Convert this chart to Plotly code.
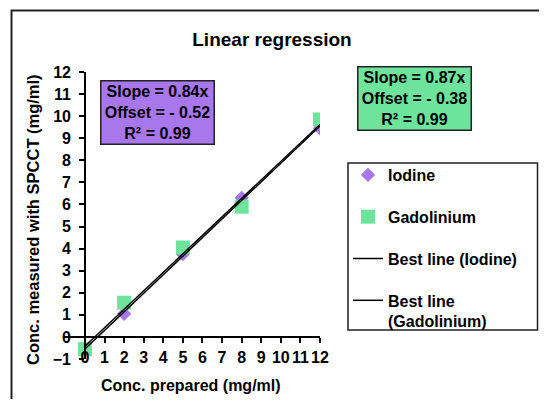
import plotly.graph_objects as go

# ---- data ----
conc_prepared = [0, 2, 5, 8, 12]
iodine_measured = [-0.5, 1.05, 3.75, 6.3, 9.45]
gadolinium_measured = [-0.55, 1.55, 4.05, 5.9, 9.85]
fit_x = [0, 12]
fit_iodine = [-0.55, 9.55]
fit_gadolinium = [-0.42, 9.62]
x_ticks = list(range(0, 13))
y_ticks = list(range(-1, 13))
iodine_box = ["Slope = 0.84x", "Offset = - 0.52", "R² = 0.99"]
gadolinium_box = ["Slope = 0.87x", "Offset = - 0.38", "R² = 0.99"]

FONT = "Arial, Liberation Sans, sans-serif"
PURPLE = "#A877EB"
GREEN = "#6EE39B"

fig = go.Figure()
fig.add_trace(go.Scatter(x=conc_prepared, y=iodine_measured, mode="markers", name="Iodine",
                         legendgroup="a",
                         marker=dict(symbol="diamond", size=11, color=PURPLE)))
fig.add_trace(go.Scatter(x=conc_prepared, y=gadolinium_measured, mode="markers", name="Gadolinium",
                         legendgroup="b",
                         marker=dict(symbol="square", size=14, color=GREEN)))
fig.add_trace(go.Scatter(x=fit_x, y=fit_iodine, mode="lines", name="Best line (Iodine)",
                         legendgroup="c",
                         line=dict(color="black", width=1.5)))
fig.add_trace(go.Scatter(x=fit_x, y=fit_gadolinium, mode="lines", name="Best line<br>(Gadolinium)",
                         legendgroup="d",
                         line=dict(color="black", width=1.5)))

# page offset (body margin) in screen pixels; visible area ends at 539 x 399
OFF = 8
W, H = 539 - OFF, 399 - OFF
# plot area in screen pixels
SL, SR, ST, SB = 63, 320, 72, 359
L, T = SL - OFF, ST - OFF
R, B = W - (SR - OFF), H - (SB - OFF)
pw, ph = W - L - R, H - T - B
xr = [-1.12, 12]
yr = [-1, 12]

def px_x(p):  # screen px -> paper x
    return (p - OFF - L) / pw

def px_y(p):  # screen px -> paper y
    return (H - B - (p - OFF)) / ph

tick_font = dict(family=FONT, size=16, color="black", weight="bold")

fig.update_layout(
    width=W, height=H,
    margin=dict(l=L, r=R, t=T, b=B, autoexpand=False),
    paper_bgcolor="white", plot_bgcolor="white",
    showlegend=True,
    title=dict(text="Linear regression", x=(272 - OFF) / W, y=1 - (39 - OFF) / H,
               xref="container", yref="container", xanchor="center", yanchor="middle",
               font=dict(family=FONT, size=19, color="black", weight="bold")),
    xaxis=dict(range=xr, anchor="free", position=(0 - yr[0]) / (yr[1] - yr[0]),
               tickvals=x_ticks, ticks="outside", ticklen=5, tickwidth=1.5, tickcolor="black",
               showline=True, linecolor="black", linewidth=1.5, showgrid=False, zeroline=False,
               tickfont=tick_font, ticklabelstandoff=1),
    yaxis=dict(range=yr, anchor="free", position=(0 - xr[0]) / (xr[1] - xr[0]),
               tickvals=y_ticks, ticks="outside", ticklen=5, tickwidth=1.5, tickcolor="black",
               showline=True, linecolor="black", linewidth=1.5, showgrid=False, zeroline=False,
               tickfont=tick_font, ticklabelstandoff=5),
    legend=dict(x=px_x(348), y=px_y(158), xanchor="left", yanchor="top",
                bgcolor="rgba(0,0,0,0)", borderwidth=0,
                font=dict(family=FONT, size=16, color="black", weight="bold"),
                traceorder="grouped", tracegroupgap=18, valign="top"),
)

# legend frame
fig.add_shape(type="rect", xref="paper", yref="paper",
              x0=px_x(348), y0=px_y(163), x1=px_x(537.5), y1=px_y(330),
              line=dict(color="#222", width=1.5), fillcolor="white", layer="above")

box_font = dict(family=FONT, size=16, color="black", weight="bold")
fig.add_annotation(text="<br>".join(iodine_box), xref="paper", yref="paper",
                   x=px_x(157), y=px_y(112), xanchor="center", yanchor="middle", showarrow=False,
                   font=box_font, bgcolor=PURPLE, bordercolor="#222", borderwidth=1.5,
                   width=110, height=60, borderpad=1, align="center")
fig.add_annotation(text="<br>".join(gadolinium_box), xref="paper", yref="paper",
                   x=px_x(414.5), y=px_y(98), xanchor="center", yanchor="middle", showarrow=False,
                   font=box_font, bgcolor=GREEN, bordercolor="#222", borderwidth=1.5,
                   width=110, height=60, borderpad=1, align="center")

fig.add_annotation(text="Conc. prepared (mg/ml)", xref="paper", yref="paper",
                   x=px_x(190.5), y=px_y(386), xanchor="center", yanchor="middle", showarrow=False,
                   font=dict(family=FONT, size=16, color="black", weight="bold"))
fig.add_annotation(text="Conc. measured with SPCCT (mg/ml)", xref="paper", yref="paper",
                   x=px_x(33), y=px_y(220), xanchor="center", yanchor="middle", showarrow=False,
                   textangle=-90,
                   font=dict(family=FONT, size=16.5, color="black", weight="bold"))

# outer frame
fig.add_shape(type="rect", xref="paper", yref="paper",
              x0=px_x(11.5), y0=px_y(10.5), x1=px_x(547 + 40), y1=px_y(407 + 40),
              line=dict(color="#222", width=2), fillcolor="rgba(0,0,0,0)", layer="below")

fig.write_html("out.html")
